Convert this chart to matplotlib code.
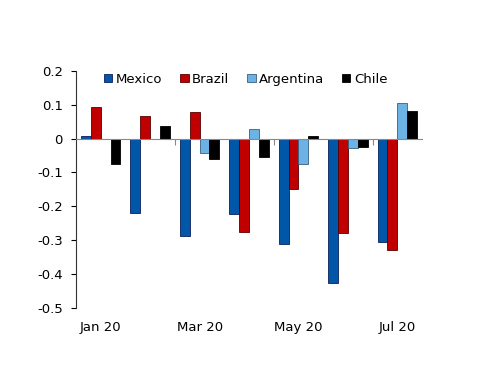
import numpy as np
import matplotlib.pyplot as plt
import matplotlib.transforms as mtransforms

# Monthly values by country
months = ['Jan 20', 'Feb 20', 'Mar 20', 'Apr 20', 'May 20', 'Jun 20', 'Jul 20']
mexico = [0.008, -0.221, -0.287, -0.223, -0.313, -0.426, -0.306]
brazil = [0.095, 0.068, 0.080, -0.275, -0.149, -0.280, -0.328]
argentina = [0.0, 0.0, -0.043, 0.028, -0.075, -0.028, 0.105]
chile = [-0.076, 0.037, -0.061, -0.053, 0.008, -0.025, 0.082]

series = [('Mexico', mexico, '#0057A8', '#0A1F5C'),
          ('Brazil', brazil, '#C00000', '#5A0000'),
          ('Argentina', argentina, '#6CB2E4', '#3A5F80'),
          ('Chile', chile, '#000000', '#000000')]

yticks = [0.2, 0.1, 0, -0.1, -0.2, -0.3, -0.4, -0.5]
ytick_labels = ['0.2', '0.1', '0', '-0.1', '-0.2', '-0.3', '-0.4', '-0.5']
labelled = ['Jan 20', 'Mar 20', 'May 20', 'Jul 20']

plt.rcParams['font.family'] = ['DejaVu Sans']
fig = plt.figure(figsize=(5, 3.86), dpi=100)
ax = fig.add_axes([0.152, 0.203, 0.692, 0.613])

x = np.arange(len(months))
w = 0.2
for i, (name, vals, col, edge) in enumerate(series):
    ax.bar(x - 0.3 + i * w, vals, w, color=col, edgecolor=edge,
           linewidth=0.6, label=name)

ax.set_xlim(-0.5, 6.5)
ax.set_ylim(-0.5, 0.2)
ax.set_yticks(yticks)
ax.set_yticklabels(ytick_labels, fontsize=9.5)
ax.tick_params(axis='y', direction='out', length=3.5, width=0.8, pad=6)

for s in ['top', 'right']:
    ax.spines[s].set_visible(False)
ax.spines['bottom'].set_position(('data', 0))
ax.spines['bottom'].set_color('#888888')
ax.spines['left'].set_color('#333333')

ax.set_xticks([1.5, 3.5, 5.5])
ax.set_xticklabels([])
ax.tick_params(axis='x', direction='out', length=4, width=0.8, colors='#888888')

trans = mtransforms.blended_transform_factory(ax.transData, ax.transAxes)
for m in labelled:
    ax.text(months.index(m), -0.055, m, transform=trans, ha='center',
            va='top', fontsize=9.5)

ax.legend(loc='center', bbox_to_anchor=(0.49, 0.966), ncol=4,
          frameon=False, fontsize=9.5, handlelength=0.65, handleheight=0.65,
          handletextpad=0.25, columnspacing=1.35, borderpad=0)

fig.savefig('out.png', dpi=100)
